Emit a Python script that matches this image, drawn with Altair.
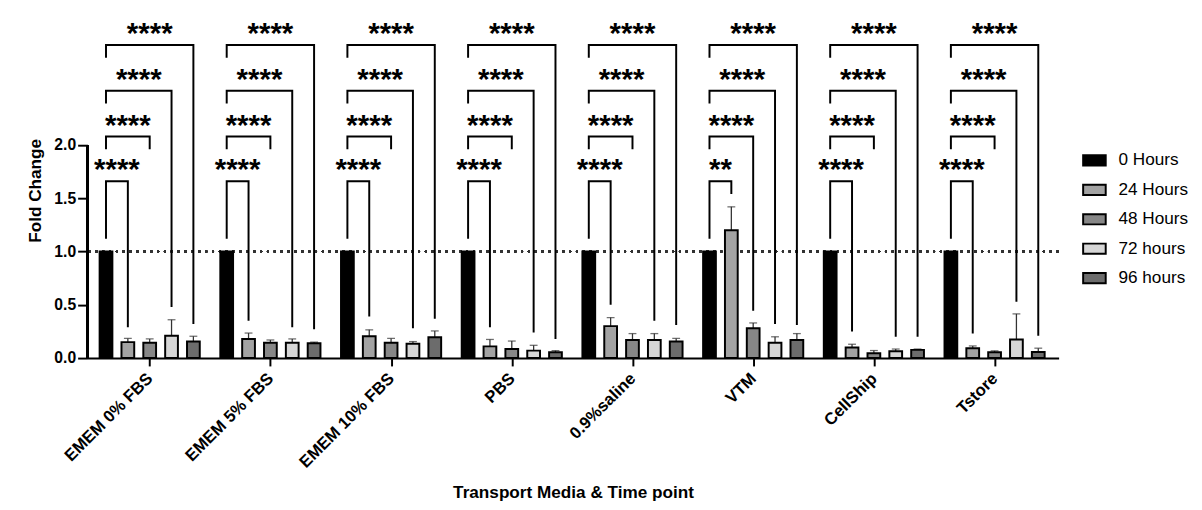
import json
import altair as alt
import pandas as pd

# ---------------- data ----------------
media = ["EMEM 0% FBS", "EMEM 5% FBS", "EMEM 10% FBS", "PBS",
         "0.9%saline", "VTM", "CellShip", "Tstore"]
times = ["0 Hours", "24 Hours", "48 Hours", "72 hours", "96 hours"]
fills = ["#000000", "#a3a3a3", "#878787", "#d6d6d6", "#6c6c6c"]

mean_0h = [1.0, 1.0, 1.0, 1.0, 1.0, 1.0, 1.0, 1.0]
mean_24h = [0.15, 0.18, 0.205, 0.11, 0.30, 1.20, 0.10, 0.092]
mean_48h = [0.145, 0.145, 0.145, 0.085, 0.17, 0.28, 0.046, 0.055]
mean_72h = [0.21, 0.145, 0.135, 0.07, 0.17, 0.145, 0.065, 0.175]
mean_96h = [0.155, 0.14, 0.195, 0.055, 0.155, 0.17, 0.077, 0.058]

sem_0h = [0, 0, 0, 0, 0, 0, 0, 0]
sem_24h = [0.035, 0.055, 0.06, 0.065, 0.08, 0.22, 0.03, 0.022]
sem_48h = [0.035, 0.025, 0.04, 0.075, 0.06, 0.05, 0.025, 0.013]
sem_72h = [0.15, 0.035, 0.02, 0.05, 0.06, 0.055, 0.02, 0.24]
sem_96h = [0.05, 0.01, 0.06, 0.015, 0.03, 0.06, 0.008, 0.035]

# significance brackets: 0 h vs 24 / 48 / 72 / 96 h
bracket_level = [1.66, 2.08, 2.51, 2.94]
bracket_left_end = [1.12, 1.96, 2.39, 2.82]
bracket_right_end = {
    "EMEM 0% FBS": [0.29, 1.96, 0.48, 0.32],
    "EMEM 5% FBS": [0.35, 1.96, 0.29, 0.27],
    "EMEM 10% FBS": [0.39, 1.96, 0.28, 0.37],
    "PBS": [0.29, 1.96, 0.24, 0.18],
    "0.9%saline": [0.50, 1.96, 0.35, 0.31],
    "VTM": [1.54, 0.445, 0.32, 0.31],
    "CellShip": [0.25, 1.96, 0.20, 0.20],
    "Tstore": [0.23, 1.96, 0.53, 0.21],
}
bracket_stars = {
    "EMEM 0% FBS": ["****", "****", "****", "****"],
    "EMEM 5% FBS": ["****", "****", "****", "****"],
    "EMEM 10% FBS": ["****", "****", "****", "****"],
    "PBS": ["****", "****", "****", "****"],
    "0.9%saline": ["****", "****", "****", "****"],
    "VTM": ["**", "****", "****", "****"],
    "CellShip": ["****", "****", "****", "****"],
    "Tstore": ["****", "****", "****", "****"],
}

# ---------------- tables ----------------
means = [mean_0h, mean_24h, mean_48h, mean_72h, mean_96h]
sems = [sem_0h, sem_24h, sem_48h, sem_72h, sem_96h]

bar_rows = []
for gi, m in enumerate(media):
    for ti, t in enumerate(times):
        bar_rows.append(dict(media=m, gi=gi, time=t, ti=ti,
                             mean=means[ti][gi], sem=sems[ti][gi]))
bars_df = pd.DataFrame(bar_rows)

line_rows, star_rows = [], []
for gi, m in enumerate(media):
    for k in range(1, 5):
        bid = f"{gi}-{k}"
        lvl = bracket_level[k - 1]
        pts = [(0, bracket_left_end[k - 1]), (0, lvl), (k, lvl),
               (k, bracket_right_end[m][k - 1])]
        for seq, (ti, yv) in enumerate(pts):
            line_rows.append(dict(bid=bid, gi=gi, ti=ti, yv=yv, seq=seq))
        star_rows.append(dict(gi=gi, ti=k / 2, level=lvl,
                              label=bracket_stars[m][k - 1]))
lines_df = pd.DataFrame(line_rows)
stars_df = pd.DataFrame(star_rows)

# ---------------- styling ----------------
FONT = "Liberation Sans"
XPOS = "datum.gi + (datum.ti - 2) * 0.181"
X_TITLE = "Transport Media & Time point"
Y_TITLE = "Fold Change"

x_scale = alt.Scale(domain=[-0.475, 7.49], nice=False, zero=False)
y_scale = alt.Scale(domain=[0, 3.15], nice=False)

x_axis = alt.Axis(
    values=list(range(len(media))),
    labelExpr=json.dumps(media) + "[datum.value]",
    labelAngle=-45, labelAlign="right", labelBaseline="middle",
    labelFont=FONT, labelFontSize=17, labelFontWeight="bold", labelColor="black",
    labelPadding=10,
    tickSize=8, tickWidth=2, tickColor="black",
    domainWidth=2, domainColor="black",
    titleFont=FONT, titleFontSize=17.5, titleFontWeight="bold", titleColor="black",
    titlePadding=14, grid=False,
)
y_axis = alt.Axis(
    values=[0, 0.5, 1.0, 1.5, 2.0], format=".1f",
    labelFont=FONT, labelFontSize=16, labelFontWeight="bold", labelColor="black",
    labelPadding=2,
    tickSize=10, tickWidth=2, tickColor="black",
    domain=False,
    titleFont=FONT, titleFontSize=17.5, titleFontWeight="bold", titleColor="black",
    titlePadding=10, grid=False,
)

def X(field):
    return alt.X(field, type="quantitative", scale=x_scale, axis=x_axis, title=X_TITLE)

def Y(field):
    return alt.Y(field, type="quantitative", scale=y_scale, axis=y_axis, title=Y_TITLE)

base_bars = alt.Chart(bars_df).transform_calculate(xpos=XPOS, top="datum.mean + datum.sem")

refline = alt.Chart(bars_df).mark_rule(
    color="#333333", strokeWidth=1.6, strokeDash=[2, 5]
).encode(y=alt.datum(1.0))

yaxis_line = alt.Chart(bars_df).mark_rule(color="black", strokeWidth=2).encode(
    x=alt.value(0), y=alt.datum(0), y2=alt.datum(2.0)
)

err = base_bars.transform_filter("datum.sem > 0").mark_rule(
    color="#333333", strokeWidth=1.3
).encode(x=X("xpos"), y=Y("mean"), y2="top:Q")

caps = base_bars.transform_filter("datum.sem > 0").mark_tick(
    orient="horizontal", size=8, thickness=1.3, color="#333333"
).encode(x=X("xpos"), y=Y("top"))

bars = base_bars.mark_bar(
    size=13, stroke="black", strokeWidth=2, orient="vertical"
).encode(
    x=X("xpos"), y=Y("mean"),
    color=alt.Color(
        "time:N",
        scale=alt.Scale(domain=times, range=fills),
        legend=alt.Legend(
            title=None, orient="none", legendX=1014, legendY=128,
            symbolType="M-1,-0.45L1,-0.45L1,0.45L-1,0.45Z",
            symbolSize=529, symbolStrokeColor="black", symbolStrokeWidth=2,
            symbolOpacity=1,
            labelFont=FONT, labelFontSize=17.5, labelColor="black",
            labelOffset=12, rowPadding=8, padding=0,
        ),
    ),
)

brackets = alt.Chart(lines_df).transform_calculate(xpos=XPOS).mark_line(
    color="black", strokeWidth=2, strokeJoin="miter"
).encode(
    x=X("xpos"), y=Y("yv"), detail="bid:N", order="seq:Q"
)

stars = alt.Chart(stars_df).transform_calculate(xpos=XPOS).mark_text(
    font=FONT, fontSize=30, fontWeight="bold", color="black",
    baseline="alphabetic", align="center", dy=-2
).encode(x=X("xpos"), y=Y("level"), text="label:N")

chart = alt.layer(refline, err, caps, bars, brackets, stars, yaxis_line).properties(
    width=990, height=342,
    padding={"left": 18, "top": 6, "right": 5, "bottom": 5},
    background="white",
).configure_view(stroke=None)

chart.save("out.html", embed_options={"renderer": "svg", "actions": False})
